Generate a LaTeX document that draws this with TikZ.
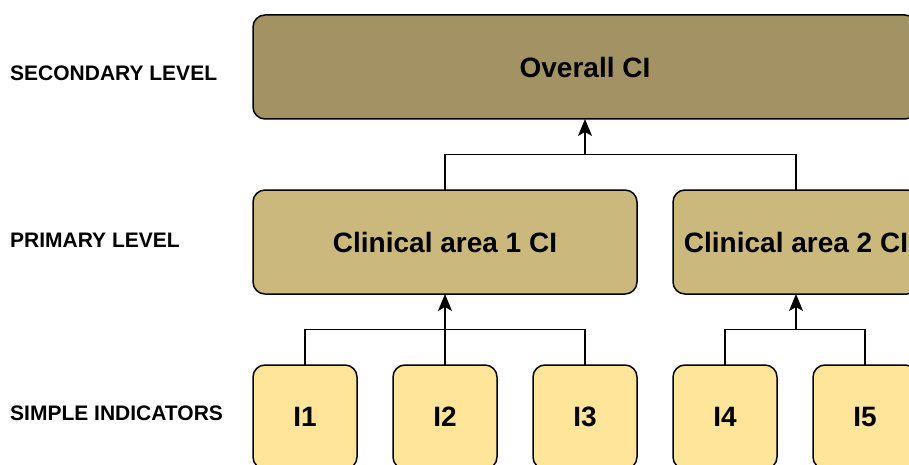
\documentclass[tikz,border=0pt]{standalone}
\usepackage{fontspec}
\setmainfont{Liberation Sans}
\usepackage{xcolor}
\usepackage{tikz}
\usetikzlibrary{arrows.meta,calc}
\definecolor{ciDark}{RGB}{163,146,99}
\definecolor{ciMid}{RGB}{203,184,125}
\definecolor{ciLight}{RGB}{255,229,154}

\begin{document}
\begin{tikzpicture}[x=1pt,y=-1pt,
    cibox/.style={draw=black, line width=1.5pt, rounded corners=12pt, inner sep=0pt, outer sep=0pt,
        minimum height=104pt, font=\fontsize{28}{32}\selectfont\bfseries},
    lvl/.style={anchor=west, inner sep=0pt, font=\fontsize{21}{24}\selectfont\bfseries},
    link/.style={line width=1.4pt},
    up/.style={line width=1.4pt, -{Stealth[length=17pt,width=14pt,inset=4pt]}}]
    \useasboundingbox (0,0) rectangle (909,465);
    \node[cibox, fill=ciDark, minimum width=664pt] (overall) at (585,67) {Overall CI};
    \node[cibox, fill=ciMid, minimum width=384pt] (clin1) at (445,242) {Clinical area 1 CI};
    \node[cibox, fill=ciMid, minimum width=246pt] (clin2) at (796,242) {Clinical area 2 CI};
    \node[cibox, fill=ciLight, minimum width=104pt] (i1) at (305,417) {I1};
    \node[cibox, fill=ciLight, minimum width=104pt] (i2) at (445,417) {I2};
    \node[cibox, fill=ciLight, minimum width=104pt] (i3) at (585,417) {I3};
    \node[cibox, fill=ciLight, minimum width=104pt] (i4) at (725,417) {I4};
    \node[cibox, fill=ciLight, minimum width=104pt] (i5) at (865,417) {I5};
    \node[lvl] (secondary) at (10,73) {SECONDARY LEVEL};
    \node[lvl] (primary) at (10,240) {PRIMARY LEVEL};
    \node[lvl] (simple) at (10,413) {SIMPLE INDICATORS};
    \coordinate (j0) at ($(overall.south)!0.5!(overall.south |- clin1.north)$);
    \coordinate (j1) at ($(clin1.south)!0.5!(i2.north)$);
    \coordinate (j2) at ($(clin2.south)!0.5!(clin2.south |- i4.north)$);
    \draw[link] (clin1.north) |- (j0) -| (clin2.north);
    \draw[up] (j0) -- (overall.south);
    \draw[link] (i1.north) |- (j1) -| (i3.north);
    \draw[up] (i2.north) -- (clin1.south);
    \draw[link] (i4.north) |- (j2) -| (i5.north);
    \draw[up] (j2) -- (clin2.south);
\end{tikzpicture}
\end{document}
